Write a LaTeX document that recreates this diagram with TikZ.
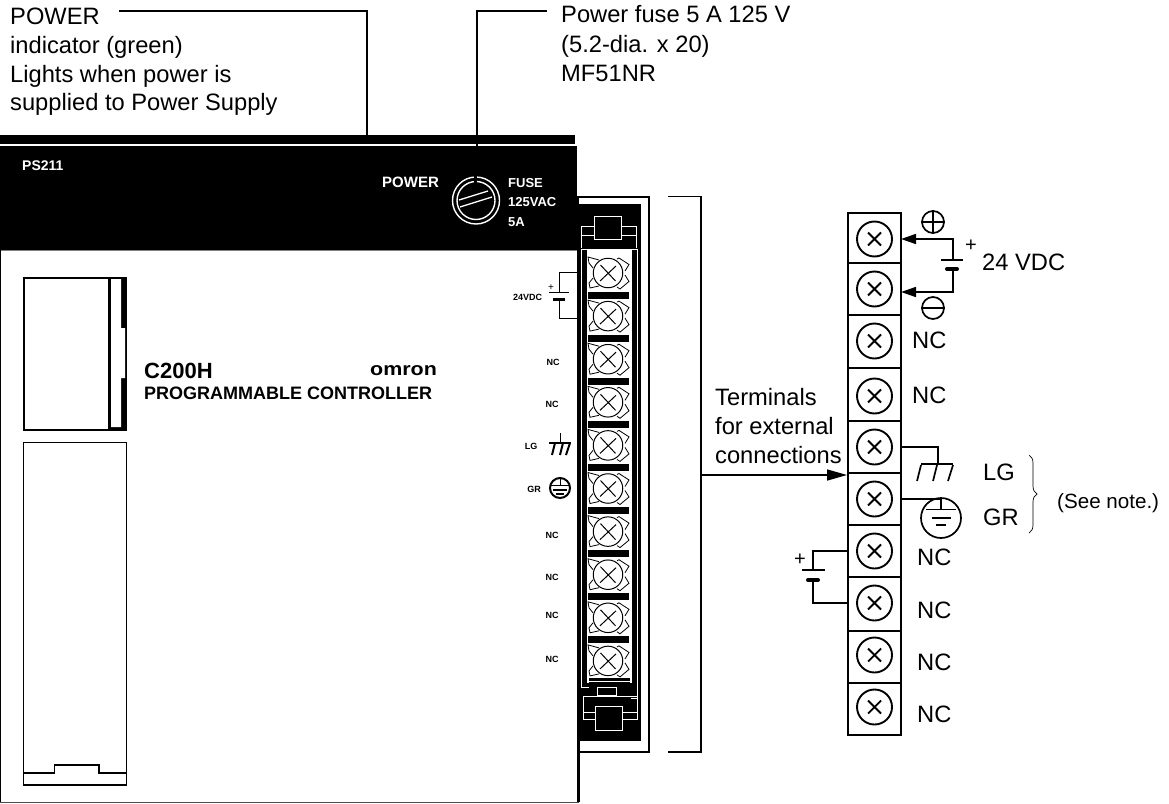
\documentclass[tikz,border=0pt]{standalone}
\usepackage{fontspec}
\setmainfont{Liberation Sans}
\newcommand{\fs}[1]{\fontsize{#1}{#1}\selectfont}
\tikzset{
  lbl/.style={inner sep=0pt,anchor=base west,font=\fs{23.7}},
  wlbl/.style={inner sep=0pt,anchor=base west,text=white,font=\fs{13}\bfseries},
  tiny/.style={inner sep=0pt,anchor=base,font=\fs{9}\bfseries},
  wire/.style={line width=1.6pt},
  tip/.style={-{Triangle[length=15pt,width=10pt]},line width=1.6pt},
  longtip/.style={-{Triangle[length=20pt,width=11pt]},line width=1.6pt},
  wl/.style={draw=white,line width=1pt},
  cell/.style={draw,line width=1.7pt,minimum width=53pt,inner sep=0pt},
  bscrew/.style={circle,draw,line width=1.9pt,minimum size=35pt,inner sep=0pt},
  sym/.style={circle,draw,line width=1.7pt,inner sep=0pt},
}
\usetikzlibrary{arrows.meta,decorations.pathreplacing}
\begin{document}
\begin{tikzpicture}[x=1pt,y=-1pt]
\useasboundingbox (0,0) rectangle (1169,803);
% panel outlines
\draw[gray,line width=.8pt] (0,250) -- (577,250);
\draw[line width=1pt] (0.5,250) -- (0.5,802);
\draw[black!70,line width=1pt] (0,802) -- (579,802);
\fill (0,135) rectangle (575,144);
\fill (0,146) rectangle (577,250);
\draw[line width=2pt,fill=white] (578,197) rectangle (648.5,751.5);
\fill (577,204) rectangle (641,741);
\fill (577,250) rectangle (580,802);
% inside of the terminal strip
\fill[white] (586.5,250) rectangle (632,683);
\draw[wl] (581,250) -- (581,687) -- (589,687);
\draw[wl] (581,249) -- (637.5,249) -- (637.5,698) -- (631,698);
\draw[wl] (594.5,216.5) rectangle (621.5,239);
\draw[wl] (594.5,226) -- (581.5,226) -- (581.5,248) (621.5,226) -- (636.5,226) -- (636.5,248);
\draw[wl] (581.5,235) -- (594.5,235) (621.5,235) -- (636.5,235);
\fill (589,678) rectangle (630,686);
\draw[wl] (589,681.5) -- (630,681.5);
\draw[wl] (597.5,687) rectangle (616.5,695);
\draw[wl] (583,696) rectangle (637,719);
\draw[wl] (583,712) -- (637,712);
\draw[wl,fill=black] (595.5,706) rectangle (622.5,730);
\foreach \i in {0,...,9}{
  \pgfmathsetmacro{\yy}{273+43.1*\i}
  \begin{scope}[shift={(608,\yy)}]
    \draw[line width=.8pt] (9,-14) -- (11,-15) -- (21,-8.5) -- (17,-2)
      (17,2) -- (21,8.5) -- (12,16) -- (9,14)
      (-9,-13) -- (-20,-16) -- (-19,-10) -- (-15,-5)
      (-15,5) -- (-19,10) -- (-18,15) -- (-9,13);
    \node[circle,draw,fill=white,line width=1pt,minimum size=29.5pt,inner sep=0pt] (s\i) at (0,0) {};
    \draw[line width=1pt] (-7.5,-8) -- (7.5,8) (-8,8) -- (8,-7);
    \ifnum\i<9 \fill (-20,18.5) rectangle (21,25.5); \fi
  \end{scope}
}
% fuse
\draw[white,line width=1.4pt] (476,200.5) circle[radius=23.5];
\draw[white,line width=1.4pt] (476,200.5) circle[radius=19];
\fill (474,174) rectangle (477,182.5);
\draw[white,line width=1.3pt] (459,200) -- (488,191) (460,207) -- (492,197);
\node[wlbl,font=\fs{15}\bfseries] (pw) at (382,187) {POWER};
\node[wlbl] (f1) at (508,187) {FUSE};
\node[wlbl] (f2) at (508,206) {125VAC};
\node[wlbl] (f3) at (508,226) {5A};
\node[wlbl,font=\fs{14}\bfseries] (ps) at (22,170) {PS211};
% left module covers
\fill (23,277) rectangle (127,431);
\fill[white] (24.5,279) rectangle (108,429);
\fill[white] (111,279) -- (121,279) -- (121,328) -- (125,328) -- (125,378) -- (121,378) -- (121,427) -- (111,427) -- cycle;
\draw[line width=1.2pt] (23.5,442.5) rectangle (126.5,785);
\draw[line width=1.1pt] (23.5,773) -- (54.5,773) -- (54.5,765) -- (99,765) -- (99,773) -- (126.5,773);
\draw[line width=2pt] (23,785) -- (127,785);
% model text
\node[inner sep=0pt,anchor=base west,font=\fs{22}\bfseries] (c2) at (144,378) {C200H};
\node[inner sep=0pt,anchor=base west,font=\fs{18.5}\bfseries] (om) at (370,375) {\scalebox{1.16}[1]{omron}};
\node[inner sep=0pt,anchor=base west,font=\fs{18}\bfseries] (pc) at (144,399) {PROGRAMMABLE CONTROLLER};
% panel small symbols
\node[tiny,anchor=base west] (a24) at (513,300) {24VDC};
\node[tiny] at (553,365) {NC};
\node[tiny] at (552,407) {NC};
\node[tiny] at (531,449) {LG};
\node[tiny] at (534,492) {GR};
\node[tiny] at (552,538) {NC};
\node[tiny] at (552,580) {NC};
\node[tiny] at (552,618) {NC};
\node[tiny] at (552,662) {NC};
\node[tiny,font=\fs{10}] at (551,290) {+};
\coordinate (pb1) at (577,272);
\coordinate (pb2) at (577,318);
\draw[line width=1pt] (pb1) -| (559,292);
\draw[line width=1pt] (pb2) -| (559,299);
\draw[line width=1pt] (549,292) -- (569,292);
\draw[line width=3pt] (553,299) -- (565,299);
\draw[line width=1pt] (560,433) -- (560,443);
\draw[line width=2pt] (549,443) -- (571,443);
\draw[line width=2pt] (555,443) -- (552,455) (563,443) -- (560,455) (570,443) -- (566,455);
\draw[line width=2pt] (560,488) circle[radius=10];
\draw[line width=1pt] (560,478) -- (560,485) (551,485) -- (569,485);
\draw[line width=1.4pt] (553,490) -- (567,490);
\draw[line width=1.2pt] (556,494) -- (564,494);
% callouts
\coordinate (ca) at (119,11);
\coordinate (cb) at (367,136);
\coordinate (cc) at (547,11);
\coordinate (cd) at (477,147);
\draw[wire] (ca) -| (cb);
\draw[wire] (cc) -| (cd);
\node[lbl] (t1) at (10,24) {POWER};
\node[lbl] (t2) at (10,53) {indicator (green)};
\node[lbl] (t3) at (10,82) {Lights when power is};
\node[lbl] (t4) at (10,110) {supplied to Power Supply};
\node[lbl] (t5) at (561,23) {Power fuse 5 A 125 V};
\node[lbl] (t6) at (561,52) {(5.2-dia. x 20)};
\node[lbl] (t7) at (561,81) {MF51NR};
% bracket
\coordinate (b1) at (668,196.5);
\coordinate (b2) at (668,752);
\draw[wire] (b1) -- (701,196.5) -- (701,752) -- (b2);
\node[lbl] (t8) at (715,405) {Terminals};
\node[lbl] (t9) at (715,434) {for external};
\node[lbl] (t10) at (715,463) {connections};
% terminal block
\def\cx{874.5}
\foreach \n/\ya/\yb/\sy in {1/213/263/239,2/263/315/289,3/315/368/341,4/368/421/396,5/421/473/447,6/473/525/499,7/525/577/551,8/577/631/603,9/631/683/655,10/683/735/707}{
  \pgfmathsetmacro{\cellm}{(\ya+\yb)/2}
  \pgfmathsetmacro{\cellh}{\yb-\ya}
  \node[cell,minimum height=\cellh pt] (c\n) at (\cx,\cellm) {};
  \node[bscrew] (k\n) at (\cx,\sy) {};
  \draw[line width=1.8pt] (\cx-6.5,\sy-6.5) -- (\cx+6.5,\sy+6.5) (\cx-6.5,\sy+6.5) -- (\cx+6.5,\sy-6.5);
  \coordinate (r\n) at (901,\sy);
  \coordinate (l\n) at (848,\sy);
}
\draw[line width=2.6pt] (848,263) -- (901,263) (848,421) -- (901,421) (848,473) -- (901,473);
\coordinate (ah) at (701,475);
\coordinate (ae) at (847,475);
\draw[longtip] (ah) -- (ae);
% 24 VDC
\coordinate (bt) at (953,260);
\coordinate (bb) at (953,269);
\coordinate (r2b) at (901,292);
\draw[tip] (bt) |- (r1);
\draw[tip] (bb) |- (r2b);
\draw[line width=1.6pt] (941,260) -- (963,260);
\draw[line width=4pt,line cap=round] (947,269) -- (957,269);
\node[sym,minimum size=22pt] (plus) at (933,222) {};
\draw[line width=1.6pt] (plus.west) -- (plus.east) (plus.north) -- (plus.south);
\node[sym,minimum size=22pt] (minus) at (933,308) {};
\draw[line width=1.6pt] (minus.west) -- (minus.east);
\node[lbl,font=\fs{20}] (pl) at (965,251) {+};
\node[lbl] (v24) at (982,270) {24 VDC};
\foreach \x/\y in {912/348,912/403,917/565,917/618,917/670,917/722}
  \node[lbl] at (\x,\y) {NC};
% LG
\coordinate (lgt) at (938,464);
\draw[wire] (r5) -| (lgt);
\draw[line width=2.8pt] (921,464) -- (953,464);
\draw[line width=1.7pt] (921,465) -- (917,481) (937,465) -- (933,481) (953,465) -- (948,481);
\node[lbl] (lg) at (983,480) {LG};
% GR
\node[sym,minimum size=40pt] (gnd) at (941,518) {};
\draw[wire] (r6) -| (941,510);
\draw[line width=1.6pt] (926,509.5) -- (956,509.5);
\draw[line width=1.6pt] (932,518) -- (951,518);
\draw[line width=1.6pt] (936,525) -- (946,525);
\node[lbl] (gr) at (983,525) {GR};
% lower battery
\coordinate (lt) at (813,570);
\coordinate (lb) at (813,580);
\draw[wire] (l7) -| (lt);
\draw[wire] (l8) -| (lb);
\draw[line width=1.6pt] (802,570) -- (825,570);
\draw[line width=4pt,line cap=round] (808,580) -- (818,580);
\node[lbl,font=\fs{20}] (pl2) at (794,565) {+};
% note
\draw[line width=.7pt,decorate,decoration={brace,amplitude=8pt}] (1029,455) -- (1029,533);
\node[lbl,font=\fs{20.6}] (nt) at (1057,508) {(See note.)};
\end{tikzpicture}
\end{document}
